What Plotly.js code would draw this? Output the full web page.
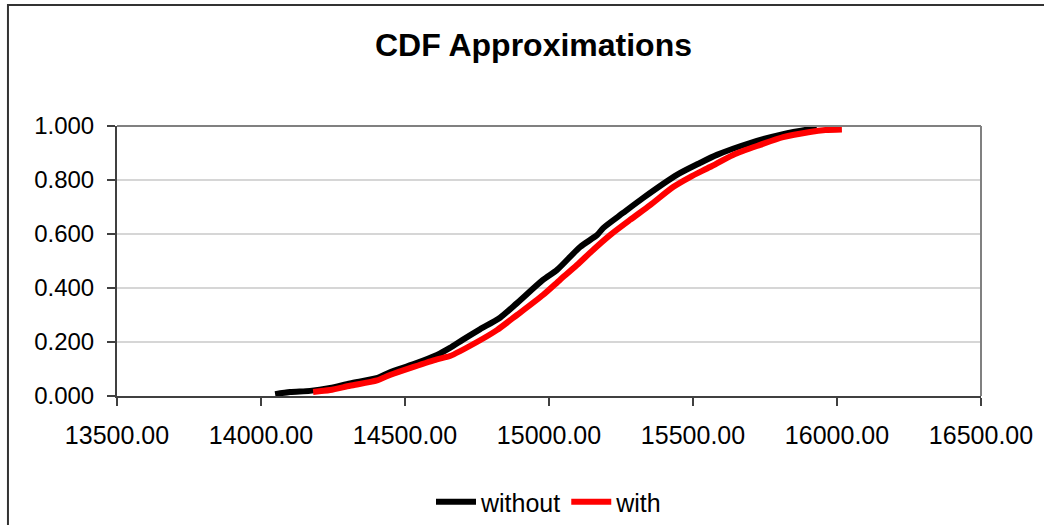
<!DOCTYPE html>
<html>
<head>
<meta charset="utf-8">
<script src="https://cdn.plot.ly/plotly-3.0.1.min.js"></script>
<style>
html,body{margin:0;padding:0;background:#fff;}
#chart{width:1044px;height:525px;}
</style>
</head>
<body>
<div id="chart"></div>
<script>
var chartTitle = "CDF Approximations";
var seriesNames = ["without", "with"];

var withoutX = [14049, 14101, 14170, 14240, 14309, 14401, 14448, 14530, 14611, 14656, 14700, 14760, 14830, 14889, 14979, 15028, 15108, 15167, 15188, 15257, 15326, 15444, 15524, 15583, 15698, 15813, 15930];
var withoutY = [0.007, 0.015, 0.019, 0.030, 0.047, 0.066, 0.088, 0.118, 0.152, 0.178, 0.208, 0.247, 0.290, 0.344, 0.430, 0.467, 0.552, 0.596, 0.622, 0.678, 0.733, 0.819, 0.863, 0.893, 0.937, 0.970, 0.993];

var withX = [14181, 14240, 14309, 14403, 14448, 14530, 14611, 14656, 14750, 14819, 14889, 14979, 15038, 15097, 15153, 15212, 15281, 15351, 15431, 15490, 15559, 15639, 15733, 15813, 15906, 15960, 16017];
var withY = [0.015, 0.022, 0.038, 0.058, 0.078, 0.108, 0.136, 0.148, 0.200, 0.244, 0.300, 0.374, 0.430, 0.485, 0.541, 0.596, 0.652, 0.707, 0.774, 0.811, 0.848, 0.893, 0.930, 0.959, 0.978, 0.985, 0.987];

var xTickVals = [13500, 14000, 14500, 15000, 15500, 16000, 16500];
var yTickVals = [0, 0.2, 0.4, 0.6, 0.8, 1.0];

var font = "Liberation Sans, Arial, sans-serif";

var traces = [
  {x: withoutX, y: withoutY, name: seriesNames[0], mode: "lines",
   line: {color: "#000000", width: 6, shape: "spline", smoothing: 0.7}},
  {x: withX, y: withY, name: seriesNames[1], mode: "lines",
   line: {color: "#ff0000", width: 6, shape: "spline", smoothing: 0.7}}
];

var layout = {
  width: 1044, height: 525,
  margin: {l: 117, r: 63, t: 126, b: 129, pad: 0, autoexpand: false},
  paper_bgcolor: "#ffffff",
  plot_bgcolor: "#ffffff",
  font: {family: font, color: "#000000", size: 21},
  title: {text: "<b>" + chartTitle + "</b>", font: {family: font, size: 32, color: "#000000"},
          x: 0.511, xanchor: "center", y: 0.914, yanchor: "middle"},
  showlegend: true,
  legend: {orientation: "h", x: 0.5, xanchor: "center", y: -0.393, yanchor: "middle",
           font: {family: font, size: 25, color: "#000000"}, itemwidth: 40, bgcolor: "rgba(0,0,0,0)"},
  xaxis: {
    range: [13500, 16500], tickvals: xTickVals, tickformat: ".2f",
    showgrid: false, zeroline: false, automargin: false,
    showline: true, linecolor: "#404040", linewidth: 2,
    ticks: "outside", ticklen: 8, tickwidth: 2, tickcolor: "#404040",
    ticklabelstandoff: 8,
    tickfont: {family: font, size: 25, color: "#000000"}
  },
  yaxis: {
    range: [0, 1], tickvals: yTickVals, tickformat: ".3f",
    showgrid: true, gridcolor: "#d6d6d6", gridwidth: 1.5,
    zeroline: false, automargin: false,
    showline: true, linecolor: "#404040", linewidth: 2,
    ticks: "outside", ticklen: 8, tickwidth: 2, tickcolor: "#404040",
    ticklabelstandoff: 8,
    tickfont: {family: font, size: 24, color: "#000000"}
  },
  shapes: [
    {type: "line", xref: "paper", yref: "paper", x0: 0, x1: 1, y0: 1, y1: 1,
     line: {color: "#808080", width: 2}},
    {type: "line", xref: "paper", yref: "paper", x0: 1, x1: 1, y0: 0, y1: 1,
     line: {color: "#808080", width: 2}},
    {type: "rect", xref: "paper", yref: "paper", x0: -0.1262, x1: 1.09, y0: -0.52, y1: 1.448,
     line: {color: "#333333", width: 2}, fillcolor: "rgba(0,0,0,0)"}
  ]
};

Plotly.newPlot("chart", traces, layout, {displayModeBar: false, staticPlot: true});
</script>
</body>
</html>
